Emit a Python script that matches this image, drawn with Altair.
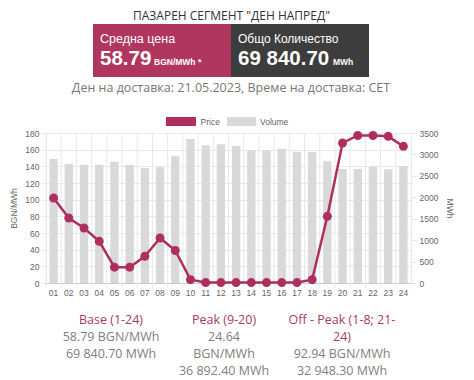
import altair as alt
import pandas as pd

hours = [f"{i:02d}" for i in range(1, 25)]
price = [102, 78, 66, 50, 19, 19, 32, 54, 39, 4, 0.5, 0.5, 0.5, 0.5, 0.5, 0.5, 0.5,
         4, 80, 168, 177, 177, 176, 164]
volume = [2893, 2777, 2761, 2761, 2831, 2753, 2683, 2699, 2955, 3360, 3212, 3235,
          3197, 3095, 3095, 3134, 3064, 3048, 2839, 2660, 2660, 2714, 2652, 2730]

title_text = 'ПАЗАРЕН СЕГМЕНТ "ДЕН НАПРЕД"'
avg_label = "Средна цена"
avg_value = "58.79"
avg_unit = "BGN/MWh *"
qty_label = "Общо Количество"
qty_value = "69 840.70"
qty_unit = "MWh"
delivery = "Ден на доставка: 21.05.2023, Време на доставка: CET"
legend_items = ["Price", "Volume"]
footer_cols = [
    ["Base (1-24)", "58.79 BGN/MWh", "69 840.70 MWh"],
    ["Peak (9-20)", "24.64", "BGN/MWh", "36 892.40 MWh"],
    ["Off - Peak (1-8; 21-", "24)", "92.94 BGN/MWh", "32 948.30 MWh"],
]
footer_title_lines = [1, 1, 2]

PINK = "#ae2f5f"
BOX_PINK = "#b0365f"
DARK = "#3d3d3d"
BAR = "#d9d9d9"
GRID = "#e8e8e8"
AXIS_TXT = "#666666"
HFONT = "Open Sans"
CFONT = "Liberation Sans"
FS = 8.5

W, H = 365, 150

df = pd.DataFrame({"hour": hours, "price": price, "volume": volume})

x_axis = alt.Axis(title=None, labelAngle=0, grid=False, ticks=False, domain=True,
                  domainColor="#c8c8c8", labelColor=AXIS_TXT, labelFont=CFONT,
                  labelFontSize=FS, labelPadding=5)
x_enc = alt.X("hour:N", sort=hours, axis=x_axis,
              scale=alt.Scale(paddingInner=0, paddingOuter=0))

vgrid = alt.Chart(df).mark_rule(color=GRID, strokeWidth=1).encode(
    x=alt.X("hour:N", sort=hours, axis=x_axis, bandPosition=0),
    y=alt.value(0), y2=alt.value(H + 5))

bars = alt.Chart(df).mark_bar(color=BAR, width=alt.RelativeBandSize(0.55)).encode(
    x=x_enc,
    y=alt.Y("volume:Q", scale=alt.Scale(domain=[0, 3500], nice=False),
            axis=alt.Axis(orient="right", title="MWh", values=list(range(0, 3501, 500)),
                          format="d", grid=False, tickSize=5, tickColor=GRID,
                          domainColor=GRID, labelColor=AXIS_TXT, labelFont=CFONT,
                          labelFontSize=FS, labelPadding=3, titleColor=AXIS_TXT,
                          titleFont=CFONT, titleFontSize=FS, titleFontWeight="normal",
                          titlePadding=7)))

line = alt.Chart(df).mark_line(
    color=PINK, strokeWidth=2.5,
    point=alt.OverlayMarkDef(filled=True, size=80, color=PINK)).encode(
    x=x_enc,
    y=alt.Y("price:Q", scale=alt.Scale(domain=[0, 180], nice=False),
            axis=alt.Axis(orient="left", title="BGN/MWh", values=list(range(0, 181, 20)),
                          grid=True, gridColor=GRID, tickSize=5, tickColor=GRID,
                          domainColor=GRID, labelColor=AXIS_TXT, labelFont=CFONT,
                          labelFontSize=FS, labelPadding=2, titleColor=AXIS_TXT,
                          titleFont=CFONT, titleFontSize=FS, titleFontWeight="normal",
                          titlePadding=6)))


def txt(s, x, y, size, color, weight="normal", align="center", baseline="middle", font=HFONT):
    return alt.Chart(pd.DataFrame({"t": [s]})).mark_text(
        align=align, baseline=baseline, fontSize=size, font=font,
        fontWeight=weight, color=color).encode(
        x=alt.value(x), y=alt.value(y), text="t:N")


def box(x1, x2, y1, y2, color):
    return alt.Chart(pd.DataFrame({"t": [0]})).mark_rect(color=color).encode(
        x=alt.value(x1), x2=alt.value(x2), y=alt.value(y1), y2=alt.value(y2))


layers = [vgrid, bars, line]
layers.append(txt(title_text, 185.5, -122.5, 12, "#333333", baseline="top"))
layers.append(box(47, 185, -109, -56, BOX_PINK))
layers.append(box(185, 323, -109, -56, DARK))
layers.append(txt(avg_label, 54, -94.5, 12.5, "white", align="left", font=CFONT))
layers.append(txt(avg_value, 54, -68.5, 20.5, "white", weight="bold", align="left",
                  baseline="alphabetic", font=CFONT))
layers.append(txt(avg_unit, 108, -68.5, 8.5, "white", weight="bold", align="left",
                  baseline="alphabetic", font=CFONT))
layers.append(txt(qty_label, 192, -94.5, 12, "white", align="left", font=CFONT))
layers.append(txt(qty_value, 192, -68.5, 20.5, "white", weight="bold", align="left",
                  baseline="alphabetic", font=CFONT))
layers.append(txt(qty_unit, 287, -68.5, 8.5, "white", weight="bold", align="left",
                  baseline="alphabetic", font=CFONT))
layers.append(txt(delivery, 185, -45, 12.5, "#777777"))

# legend
layers.append(box(120, 150, -16, -7, PINK))
layers.append(txt(legend_items[0], 154.5, -11.5, FS, AXIS_TXT, align="left", font=CFONT))
layers.append(box(181, 210, -16, -7, BAR))
layers.append(txt(legend_items[1], 214, -11.5, FS, AXIS_TXT, align="left", font=CFONT))

# footer
col_x = [65, 178, 296]
row_y = [187, 204, 221, 238]
for cx, lines, nt in zip(col_x, footer_cols, footer_title_lines):
    for i, s in enumerate(lines):
        color = "#a83a66" if i < nt else "#808080"
        layers.append(txt(s, cx, row_y[i], 12.5, color))

chart = alt.layer(*layers).resolve_scale(y="independent").properties(
    width=W, height=H,
    autosize=alt.AutoSizeParams(type="none"),
    padding={"left": 38, "top": 125, "right": 55, "bottom": 97},
).configure_view(stroke=None)

chart.save("out.html", embed_options={"renderer": "svg", "actions": False})
